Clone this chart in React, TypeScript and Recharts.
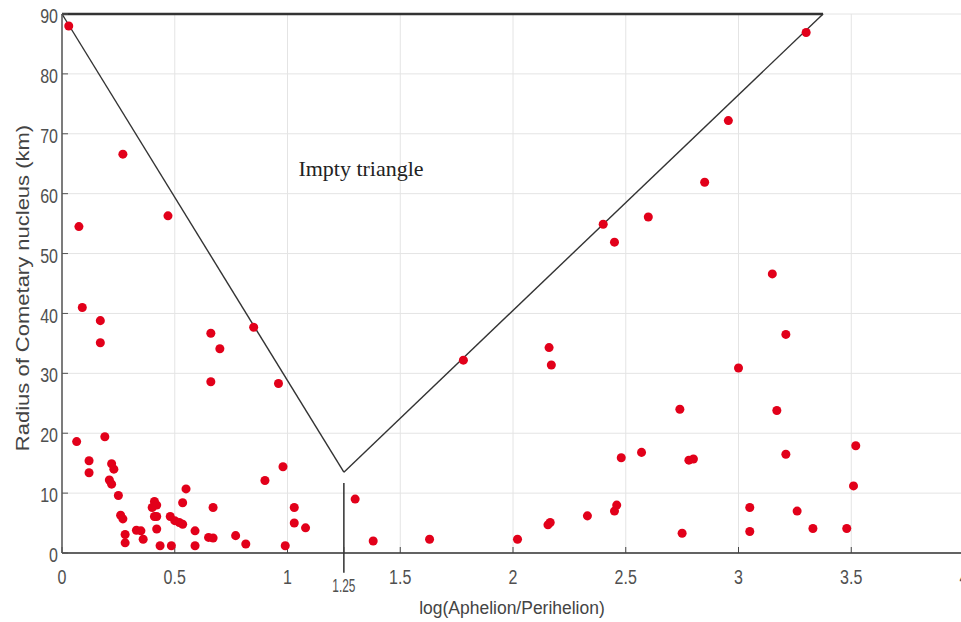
import {
  ScatterChart,
  Scatter,
  XAxis,
  YAxis,
  ZAxis,
  CartesianGrid,
  ReferenceLine,
  ReferenceDot,
} from "recharts";

// log(Aphelion/Perihelion) and nucleus radius (km), paired by index
const logRatio = [
  0.03, 0.27, 0.075, 0.47, 0.09, 0.17, 0.17, 0.66, 0.7, 0.66, 0.85, 0.96,
  0.065, 0.19, 0.12, 0.12, 0.22, 0.23, 0.21, 0.22, 0.25, 0.26, 0.27, 0.28,
  0.28, 0.33, 0.35, 0.36, 0.41, 0.42, 0.4, 0.41, 0.42, 0.42, 0.435, 0.485,
  0.48, 0.5, 0.52, 0.535, 0.535, 0.55, 0.59, 0.59, 0.67, 0.65, 0.67, 0.77,
  0.815, 0.9, 0.98, 0.99, 1.03, 1.03, 1.08, 1.3, 1.38, 1.63, 1.78, 2.02,
  2.155, 2.165, 2.16, 2.17, 2.33, 2.4, 2.45, 2.45, 2.46, 2.48, 2.57, 2.6,
  2.74, 2.75, 2.78, 2.8, 2.85, 2.955, 3.0, 3.05, 3.05, 3.15, 3.17, 3.21,
  3.21, 3.26, 3.3, 3.33, 3.48, 3.51, 3.52,
];
const radiusKm = [
  88.0, 66.6, 54.5, 56.3, 41.0, 38.8, 35.1, 36.7, 34.1, 28.6, 37.7, 28.3,
  18.6, 19.4, 15.4, 13.4, 14.9, 14.0, 12.2, 11.5, 9.6, 6.3, 5.7, 3.1,
  1.7, 3.8, 3.7, 2.3, 8.6, 8.0, 7.6, 6.1, 6.1, 4.0, 1.2, 1.2,
  6.1, 5.4, 5.1, 4.8, 8.4, 10.7, 3.7, 1.2, 7.6, 2.6, 2.5, 2.9,
  1.5, 12.1, 14.4, 1.2, 7.6, 5.0, 4.2, 9.0, 2.0, 2.3, 32.2, 2.3,
  4.7, 5.1, 34.3, 31.4, 6.2, 54.9, 51.9, 7.0, 8.0, 15.9, 16.8, 56.1,
  24.0, 3.3, 15.5, 15.7, 61.9, 72.2, 30.9, 7.6, 3.6, 46.6, 23.8, 36.5,
  16.5, 7.0, 86.9, 4.1, 4.1, 11.2, 17.9,
];

// "empty triangle" vertices: top-left, apex, top-right
const triangleX = [0, 1.25, 3.375];
const triangleY = [90, 13.5, 90];
const apexMarkTop = 11.7;
const apexMarkBottom = -3.3;

const xTicks = [0, 0.5, 1, 1.25, 1.5, 2, 2.5, 3, 3.5, 4];
const xGrid = [0, 0.5, 1, 1.5, 2, 2.5, 3, 3.5, 4];
const yTicks = [0, 10, 20, 30, 40, 50, 60, 70, 80, 90];

const comets = logRatio.map((x, i) => ({ x, y: radiusKm[i] }));

const tickFont = "'Liberation Sans', Arial, sans-serif";
const tickColor = "#505050";

// squeeze text horizontally around its anchor, like the narrow font of the original
const squeeze = (x: number, k: number) =>
  `translate(${x} 0) scale(${k} 1) translate(${-x} 0)`;

function XTick(props: any) {
  const { x, y, payload } = props;
  const small = payload.value === 1.25;
  return (
    <text
      x={x}
      y={small ? y + 9 : y}
      dy="0.71em"
      textAnchor="middle"
      fill={tickColor}
      fontSize={small ? 18 : 20}
      fontFamily={tickFont}
      transform={squeeze(x, small ? 0.66 : 0.8)}
    >
      {payload.value}
    </text>
  );
}

function YTick(props: any) {
  const { x, y, payload } = props;
  return (
    <text
      x={x}
      y={y + 2}
      dy="0.355em"
      textAnchor="end"
      fill={tickColor}
      fontSize={20}
      fontFamily={tickFont}
      transform={squeeze(x, 0.8)}
    >
      {payload.value}
    </text>
  );
}

export default function App() {
  return (
    <div
      style={{
        position: "fixed",
        left: 0,
        top: 0,
        width: 961,
        height: 622,
        overflow: "hidden",
        background: "#fff",
      }}
    >
      <ScatterChart
        width={975}
        height={622}
        margin={{ top: 14, right: 11, bottom: 0, left: 0 }}
      >
        <CartesianGrid stroke="#e4e4e4" verticalValues={xGrid} horizontalValues={yTicks} />
        <XAxis
          type="number"
          dataKey="x"
          domain={[0, 4]}
          ticks={xTicks}
          interval={0}
          height={69}
          tick={<XTick />}
          tickSize={-6}
          tickMargin={23}
          axisLine={{ stroke: "#333", strokeWidth: 1.5 }}
          tickLine={{ stroke: "#444" }}
          allowDataOverflow
          label={{
            content: () => (
              <text
                x={512}
                y={614}
                textAnchor="middle"
                fill="#444"
                fontSize={19}
                fontFamily={tickFont}
                transform={squeeze(512, 0.92)}
              >
                log(Aphelion/Perihelion)
              </text>
            ),
          }}
        />
        <YAxis
          type="number"
          dataKey="y"
          domain={[0, 90]}
          ticks={yTicks}
          interval={0}
          width={62}
          tick={<YTick />}
          tickSize={-6}
          tickMargin={10}
          axisLine={{ stroke: "#555", strokeWidth: 1.5 }}
          tickLine={{ stroke: "#555" }}
          allowDataOverflow
          label={{
            content: () => (
              <text
                x={0}
                y={0}
                transform="translate(22 288) rotate(-90) scale(1 0.85)"
                dy="0.355em"
                textAnchor="middle"
                fill="#444"
                fontSize={22}
                fontFamily={tickFont}
              >
                Radius of Cometary nucleus (km)
              </text>
            ),
          }}
        />
        <ZAxis range={[50, 50]} />
        <ReferenceLine
          segment={[
            { x: triangleX[0], y: triangleY[0] },
            { x: triangleX[2], y: triangleY[2] },
          ]}
          stroke="#333"
          strokeWidth={2.5}
        />
        <ReferenceLine
          segment={[
            { x: triangleX[0], y: triangleY[0] },
            { x: triangleX[1], y: triangleY[1] },
          ]}
          stroke="#333"
          strokeWidth={1.4}
        />
        <ReferenceLine
          segment={[
            { x: triangleX[1], y: triangleY[1] },
            { x: triangleX[2], y: triangleY[2] },
          ]}
          stroke="#333"
          strokeWidth={1.4}
        />
        <ReferenceLine
          segment={[
            { x: triangleX[1], y: apexMarkBottom },
            { x: triangleX[1], y: apexMarkTop },
          ]}
          stroke="#222"
          strokeWidth={1.4}
          ifOverflow="visible"
        />
        <ReferenceDot
          x={1.326}
          y={64.3}
          r={0}
          fill="none"
          stroke="none"
          label={{
            value: "Impty triangle",
            position: "center",
            fill: "#222",
            fontSize: 22,
            fontFamily: "'Liberation Serif', 'Times New Roman', serif",
          }}
        />
        <Scatter
          data={comets}
          fill="#e2001a"
          shape="circle"
          isAnimationActive={false}
        />
      </ScatterChart>
    </div>
  );
}
